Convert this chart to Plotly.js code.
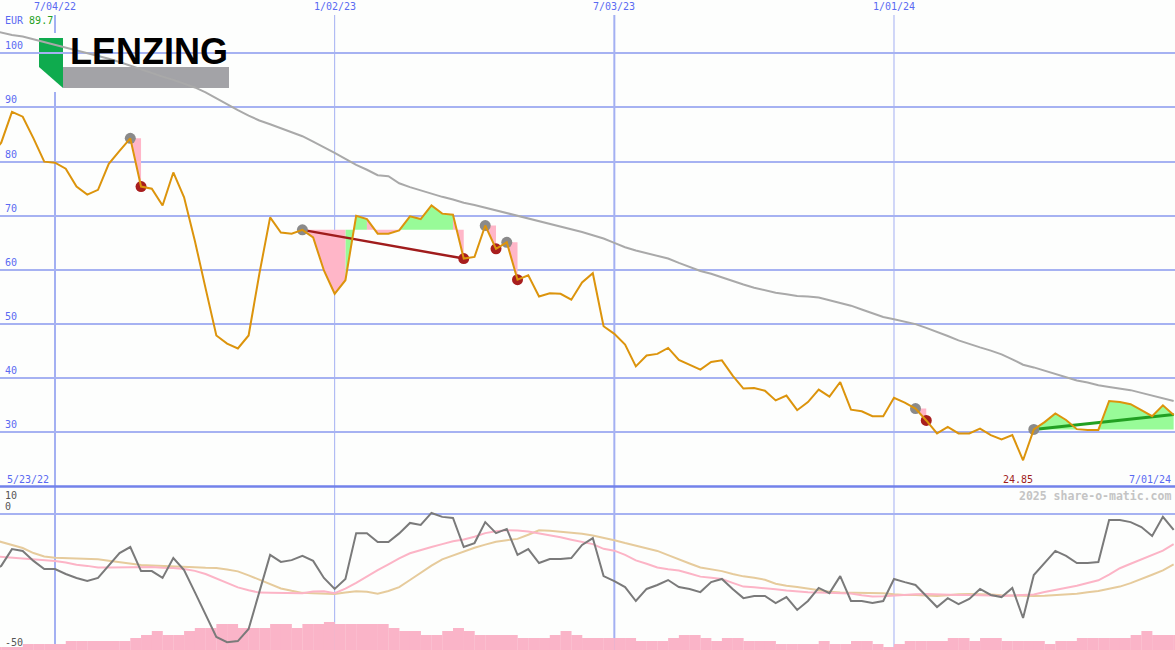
<!DOCTYPE html>
<html><head><meta charset="utf-8">
<script src="https://cdn.plot.ly/plotly-3.0.1.min.js"></script>
<style>html,body{margin:0;padding:0;background:#fdfefd;}#chart{width:1175px;height:650px;}</style>
</head><body><div id="chart"></div>
<script>
// ---- data (weekly) ----
const dates = ("2022-05-23 2022-05-30 2022-06-06 2022-06-13 2022-06-20 2022-06-27 2022-07-04 2022-07-11 2022-07-18 2022-07-25 " +
"2022-08-01 2022-08-08 2022-08-15 2022-08-22 2022-08-29 2022-09-05 2022-09-12 2022-09-19 2022-09-26 2022-10-03 " +
"2022-10-10 2022-10-17 2022-10-24 2022-10-31 2022-11-07 2022-11-14 2022-11-21 2022-11-28 2022-12-05 2022-12-12 " +
"2022-12-19 2022-12-26 2023-01-02 2023-01-09 2023-01-16 2023-01-23 2023-01-30 2023-02-06 2023-02-13 2023-02-20 " +
"2023-02-27 2023-03-06 2023-03-13 2023-03-20 2023-03-27 2023-04-03 2023-04-10 2023-04-17 2023-04-24 2023-05-01 " +
"2023-05-08 2023-05-15 2023-05-22 2023-05-29 2023-06-05 2023-06-12 2023-06-19 2023-06-26 2023-07-03 2023-07-10 " +
"2023-07-17 2023-07-24 2023-07-31 2023-08-07 2023-08-14 2023-08-21 2023-08-28 2023-09-04 2023-09-11 2023-09-18 " +
"2023-09-25 2023-10-02 2023-10-09 2023-10-16 2023-10-23 2023-10-30 2023-11-06 2023-11-13 2023-11-20 2023-11-27 " +
"2023-12-04 2023-12-11 2023-12-18 2023-12-25 2024-01-01 2024-01-08 2024-01-15 2024-01-22 2024-01-29 2024-02-05 " +
"2024-02-12 2024-02-19 2024-02-26 2024-03-04 2024-03-11 2024-03-18 2024-03-25 2024-04-01 2024-04-08 2024-04-15 " +
"2024-04-22 2024-04-29 2024-05-06 2024-05-13 2024-05-20 2024-05-27 2024-06-03 2024-06-10 2024-06-17 2024-06-24 " +
"2024-07-01").split(" ");

const price = [81.0,83.5,89.2,88.3,84.3,80.0,79.8,78.7,75.4,73.9,
74.8,79.6,82.0,84.3,75.4,75.0,71.9,78.0,73.4,65.4,
56.6,47.9,46.4,45.5,47.9,59.3,69.7,66.9,66.7,67.4,
66.0,59.9,55.6,58.1,70.0,69.4,66.7,66.7,67.3,69.9,
69.4,71.9,70.4,70.2,62.1,62.4,68.2,63.9,65.1,58.2,
59.0,55.1,55.7,55.6,54.5,57.7,59.4,49.6,48.2,46.2,
42.2,44.2,44.5,45.6,43.4,42.5,41.6,43.0,43.3,40.5,
38.1,38.2,37.7,35.9,36.8,34.1,35.6,37.9,36.6,39.3,
34.2,33.9,33.0,33.0,36.4,35.5,34.4,32.2,29.8,31.0,
29.8,29.8,30.7,29.5,28.7,29.5,24.85,30.55,31.9,33.5,
32.3,30.6,30.45,30.45,35.8,35.6,35.2,34.1,33.0,35.0,
33.2];

const movingAvg = [104.3,103.8,103.4,103.1,102.6,102.1,101.6,101.1,100.6,100.1,
99.6,99.0,98.4,97.7,97.0,96.4,95.7,95.1,94.4,93.7,
92.8,91.7,90.5,89.5,88.5,87.6,86.9,86.2,85.4,84.7,
83.7,82.7,81.6,80.5,79.4,78.5,77.5,77.3,76.0,75.3,
74.7,74.0,73.5,73.0,72.4,72.0,71.5,71.0,70.6,70.1,
69.5,69.0,68.5,68.0,67.5,67.0,66.4,65.8,65.0,64.2,
63.6,63.1,62.6,62.1,61.3,60.5,59.8,59.3,58.6,57.9,
57.3,56.7,56.2,55.8,55.5,55.2,55.1,54.9,54.4,53.9,
53.4,52.7,52.0,51.3,50.9,50.5,50.0,49.3,48.6,47.8,
47.0,46.3,45.7,45.1,44.4,43.5,42.5,42.0,41.4,40.8,
40.1,39.6,39.2,38.7,38.4,38.1,37.8,37.3,36.8,36.3,
35.8];

const oscillator = [-22.0,-19.8,-13.4,-14.1,-17.9,-21.0,-21.0,-22.9,-24.4,-25.6,
-24.4,-19.5,-14.9,-12.6,-21.8,-21.8,-24.4,-16.8,-21.4,-29.8,
-38.5,-46.9,-48.9,-48.5,-43.9,-29.8,-15.6,-18.3,-17.6,-16.0,
-17.9,-24.4,-28.6,-24.8,-7.3,-7.3,-10.7,-10.7,-7.4,-3.4,
-4.2,0.4,-1.1,-1.5,-12.6,-11.1,-3.1,-7.3,-5.7,-15.6,
-13.4,-18.7,-17.2,-17.2,-16.8,-11.8,-9.2,-23.7,-25.6,-27.9,
-33.2,-28.6,-27.1,-25.2,-27.9,-28.6,-29.8,-26.0,-24.8,-28.6,
-32.1,-31.3,-31.3,-34.0,-31.7,-36.6,-33.2,-28.2,-30.2,-23.7,
-33.2,-33.2,-34.0,-33.2,-24.8,-26.0,-27.1,-31.3,-35.5,-32.1,
-34.4,-32.4,-28.6,-30.9,-31.7,-28.2,-39.7,-23.3,-18.7,-14.1,
-16.0,-18.7,-18.7,-18.3,-2.3,-2.3,-3.1,-5.0,-8.4,-1.1,
-6.1];

const oscFast = [-16.0,-16.3,-16.7,-17.0,-17.2,-17.4,-17.9,-18.5,-19.4,-19.8,
-20.4,-20.4,-20.3,-20.2,-20.1,-20.2,-20.5,-20.6,-21.0,-21.7,
-22.9,-24.6,-26.3,-28.0,-29.1,-30.0,-30.1,-30.2,-30.2,-30.2,
-29.6,-29.5,-30.2,-28.5,-26.3,-23.7,-21.4,-19.2,-16.9,-15.0,
-13.7,-12.6,-11.5,-10.4,-9.7,-8.7,-7.3,-6.6,-6.2,-6.3,
-6.7,-7.4,-8.0,-8.9,-9.8,-10.6,-11.5,-13.3,-14.0,-15.6,
-17.7,-19.0,-20.4,-21.1,-21.6,-22.7,-23.9,-24.3,-24.8,-26.3,
-27.7,-28.0,-28.3,-28.7,-29.2,-29.6,-29.9,-30.0,-30.1,-30.2,
-30.3,-31.0,-31.5,-31.4,-31.1,-30.8,-30.6,-30.5,-30.7,-30.9,
-30.9,-30.9,-30.9,-31.1,-31.3,-31.1,-31.0,-30.7,-29.8,-29.0,
-28.2,-27.4,-26.3,-25.3,-23.1,-20.7,-19.0,-17.3,-15.8,-14.0,
-11.5];

const oscSlow = [-9.5,-10.7,-11.7,-13.0,-14.9,-16.2,-16.7,-16.9,-17.1,-17.2,
-17.3,-17.8,-18.4,-18.9,-19.5,-19.7,-19.8,-20.0,-20.2,-20.3,
-20.5,-20.6,-21.2,-21.9,-23.4,-25.1,-26.8,-28.4,-29.3,-30.1,
-30.2,-30.3,-30.5,-30.0,-29.5,-29.7,-30.4,-29.4,-27.9,-25.2,
-22.4,-19.7,-17.3,-15.8,-14.3,-12.9,-11.7,-10.6,-10.0,-9.5,
-7.9,-6.2,-6.4,-6.8,-7.1,-7.5,-8.2,-9.0,-10.0,-11.1,
-12.1,-13.1,-14.1,-15.7,-17.4,-18.9,-20.4,-21.1,-21.8,-22.9,
-23.8,-24.3,-25.1,-26.6,-27.4,-27.9,-28.5,-29.2,-29.7,-30.0,
-30.0,-30.0,-30.0,-30.2,-30.6,-30.9,-30.9,-31.0,-31.3,-31.0,
-30.6,-30.5,-30.5,-30.7,-31.0,-31.1,-31.3,-31.3,-31.2,-31.0,
-30.7,-30.4,-29.9,-29.4,-28.5,-27.7,-26.4,-24.9,-23.2,-21.5,
-19.2];

const volume = [3,3,3,6,6,6,6,9,9,9,
9,9,9,12,15,19,15,15,19,22,
22,26,26,22,22,22,26,26,22,26,
26,28,26,26,26,26,26,22,19,19,
15,15,19,22,19,15,15,15,15,12,
12,12,15,19,15,12,12,12,12,12,
9,9,9,12,15,15,12,9,12,12,
9,9,9,6,6,6,6,9,6,6,
9,9,6,3,6,9,9,9,9,12,
12,9,12,12,9,9,9,9,6,9,
9,12,12,12,12,12,15,19,15,15,
15];

// trend patterns: [start index, end index]
const patterns = [[13,14],[29,44],[46,47],[48,49],[86,87],[97,110]];
const downTrend = [29,44];
const upTrend = [97,110];
const upTrendEndValue = 33.3;

const yTicks = [30,40,50,60,70,80,90,100];
const oscTicks = [10,0,-50];
const xTickDates = ['2022-07-04','2023-01-02','2023-07-03','2024-01-01'];
const xTickLabels = ['7/04/22','1/02/23','7/03/23','1/01/24'];
const currency = 'EUR', highLabel = '89.7', lowLabel = '24.85', lowIndex = 96;
const firstLabel = '5/23/22', lastLabel = '7/01/24';
const logoText = 'LENZING', watermark = '2025 share-o-matic.com';

// ---- build ----
const W = 1175, H = 650;
const px = x => x / W, py = y => 1 - y / H;
const BG = '#fdfefd';

const gX = [], gY = [], pX = [], pY = [];
patterns.forEach(([s, e]) => {
  const lvl = price[s];
  for (let i = s; i < e; i++) {
    const up = price[i + 1] > lvl;
    const X = up ? gX : pX, Y = up ? gY : pY;
    X.push(dates[i], dates[i], dates[i + 1], dates[i + 1], null);
    Y.push(lvl, price[i], price[i + 1], lvl, null);
  }
});
const startIdx = patterns.map(p => p[0]);
const endIdx = patterns.filter(p => p[1] !== upTrend[1]).map(p => p[1]);

const traces = [
  {type:'bar', x:dates, y:volume, xaxis:'x', yaxis:'y2', offset:0, width:7.15*86400000,
   marker:{color:'#fab4c8', line:{width:0}}},
  {type:'scatter', mode:'lines', x:dates, y:oscSlow, yaxis:'y3', line:{color:'#e6cb9c', width:2}},
  {type:'scatter', mode:'lines', x:dates, y:oscFast, yaxis:'y3', line:{color:'#fcb4c6', width:2}},
  {type:'scatter', mode:'lines', x:dates, y:oscillator, yaxis:'y3', line:{color:'#7a7a7a', width:2}},
  {type:'scatter', mode:'lines', x:gX, y:gY, fill:'toself', fillcolor:'#98fb98', line:{width:0, color:'rgba(0,0,0,0)'}},
  {type:'scatter', mode:'lines', x:pX, y:pY, fill:'toself', fillcolor:'#ffb6c8', line:{width:0, color:'rgba(0,0,0,0)'}},
  {type:'scatter', mode:'lines', x:dates, y:movingAvg, line:{color:'#a9a9a9', width:2}},
  {type:'scatter', mode:'lines', x:[dates[downTrend[0]], dates[downTrend[1]]],
   y:[price[downTrend[0]], price[downTrend[1]]], line:{color:'#a01c1c', width:2.5}},
  {type:'scatter', mode:'lines', x:[dates[upTrend[0]], dates[upTrend[1]]],
   y:[price[upTrend[0]], upTrendEndValue], line:{color:'#22a022', width:3}},
  {type:'scatter', mode:'markers', x:startIdx.map(i => dates[i]), y:startIdx.map(i => price[i]),
   marker:{color:'#8a8a8a', size:11}},
  {type:'scatter', mode:'markers', x:endIdx.map(i => dates[i]), y:endIdx.map(i => price[i]),
   marker:{color:'#a81e1e', size:11}},
  {type:'scatter', mode:'lines', x:dates, y:price, line:{color:'#dc940c', width:2}}
];

const blue = '#5a6af2';
const mono = 'DejaVu Sans Mono';
const ann = [];
yTicks.forEach(v => ann.push({xref:'paper', x:0, xanchor:'left', xshift:3, yref:'y', y:v, yanchor:'bottom',
  text:String(v), showarrow:false, font:{family:mono, size:10, color:blue}}));
xTickDates.forEach((d, k) => ann.push({xref:'x', x:d, xanchor:'center', yref:'paper', y:1, yanchor:'top', yshift:1,
  text:xTickLabels[k], showarrow:false, font:{family:mono, size:10, color:blue}}));
oscTicks.forEach(v => ann.push({xref:'paper', x:0, xanchor:'left', xshift:3, yref:'y3', y: v === 10 ? 9.85 : v,
  yanchor: v === 10 ? 'top' : (v === 0 ? 'bottom' : 'middle'), yshift: v === -50 ? 3 : 0,
  text:String(v), showarrow:false, font:{family:mono, size:10, color:'#555555'}}));
ann.push({xref:'paper', x:0, xanchor:'left', xshift:3, yref:'paper', y:py(21), yanchor:'middle',
  text:currency + ' <span style="color:#24a024">' + highLabel + '</span>', showarrow:false,
  font:{family:mono, size:10, color:blue}});
ann.push({xref:'paper', x:0, xanchor:'left', xshift:5, yref:'paper', y:py(479), yanchor:'middle',
  text:firstLabel, showarrow:false, font:{family:mono, size:10, color:blue}});
ann.push({xref:'paper', x:1, xanchor:'right', xshift:-2, yref:'paper', y:py(479), yanchor:'middle',
  text:lastLabel, showarrow:false, font:{family:mono, size:10, color:blue}});
ann.push({xref:'x', x:dates[lowIndex], xanchor:'center', xshift:-5, yref:'paper', y:py(479), yanchor:'middle',
  text:lowLabel, showarrow:false, font:{family:mono, size:10, color:'#a01c1c'}});
ann.push({xref:'paper', x:1, xanchor:'right', xshift:-2, yref:'paper', y:py(496), yanchor:'middle',
  text:'<b>' + watermark + '</b>', showarrow:false, font:{family:mono, size:11.5, color:'#c4c4c4'}});
ann.push({xref:'paper', x:px(148.5), xanchor:'center', yref:'paper', y:py(51), yanchor:'middle',
  text:'<b>' + logoText + '</b>', showarrow:false, font:{family:'Liberation Sans', size:36, color:'#000000'}});

const shapes = [];
xTickDates.forEach(d => {
  const july = d.slice(5, 7) === '07';
  shapes.push({type:'line', layer:'below', xref:'x', yref:'paper', x0:d, x1:d, y0:0, y1:py(15),
    line:{color:'#a3b0f2', width: july ? 2 : 1}});
});
shapes.push({type:'line', layer:'above', xref:'paper', yref:'paper', x0:0, x1:1, y0:py(486.5), y1:py(486.5),
  line:{color:'#7282ea', width:2.5}});
// logo
shapes.push({type:'rect', layer:'between', xref:'paper', yref:'paper', x0:px(35), x1:px(233), y0:py(92), y1:py(33),
  fillcolor:BG, line:{width:0}});
shapes.push({type:'path', layer:'between', xref:'paper', yref:'paper',
  path:`M ${px(39)},${py(38)} L ${px(63)},${py(38)} L ${px(63)},${py(88)} L ${px(39)},${py(67)} Z`,
  fillcolor:'#0fab4e', line:{width:0}});
shapes.push({type:'rect', layer:'between', xref:'paper', yref:'paper', x0:px(63), x1:px(229), y0:py(88), y1:py(67),
  fillcolor:'#a3a3a7', line:{width:0}});

const layout = {
  width:W, height:H, margin:{l:0, r:0, t:0, b:0, pad:0},
  paper_bgcolor:BG, plot_bgcolor:BG, showlegend:false, hovermode:false,
  xaxis:{type:'date', range:['2022-05-29 05:00','2024-07-01 21:00'], showgrid:false, zeroline:false,
    showticklabels:false, showline:false, ticks:'', fixedrange:true},
  yaxis:{domain:[1 - 486/650, 1], range:[20.1, 109.85], tickvals:yTicks, showticklabels:false,
    gridcolor:'#a6b2f2', gridwidth:2, zeroline:false, ticks:'', fixedrange:true},
  yaxis2:{domain:[0, 1 - 488/650], range:[0, 162], showgrid:false, showticklabels:false,
    zeroline:false, ticks:'', fixedrange:true, anchor:'x'},
  yaxis3:{overlaying:'y2', anchor:'x', range:[-51.9, 9.92], tickvals:[0], showticklabels:false,
    gridcolor:'#a6b2f2', gridwidth:2, zeroline:false, ticks:'', fixedrange:true},
  shapes:shapes, annotations:ann
};
Plotly.newPlot('chart', traces, layout, {displayModeBar:false, staticPlot:true});
</script></body></html>
